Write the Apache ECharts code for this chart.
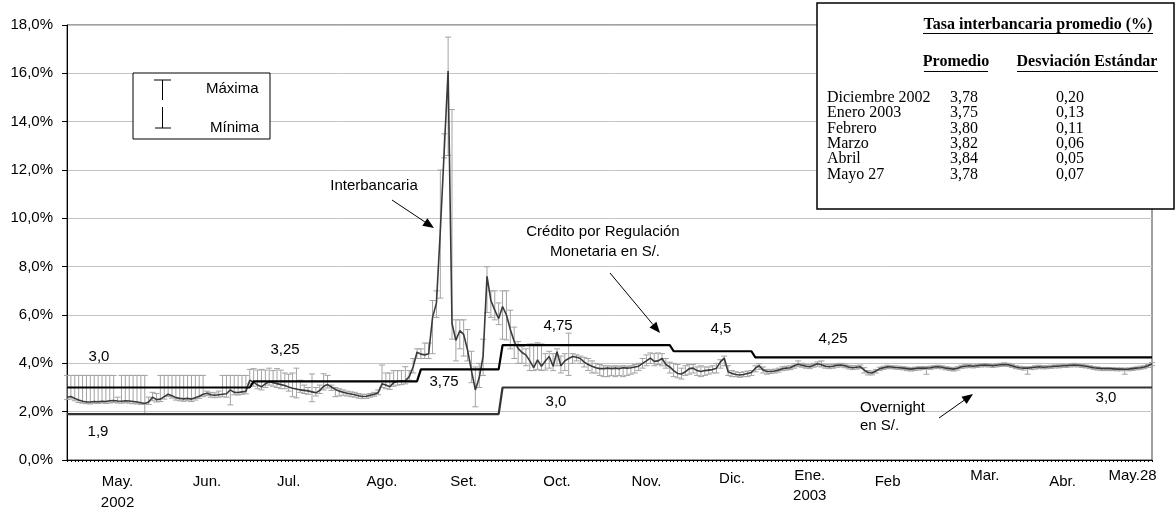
<!DOCTYPE html>
<html>
<head>
<meta charset="utf-8">
<script src="https://cdn.jsdelivr.net/npm/echarts@6/dist/echarts.min.js"></script>
<style>
html,body{margin:0;padding:0;background:#fff;}
#chart{width:1176px;height:511px;}
</style>
</head>
<body>
<div id="chart"></div>
<script>
// ---- DATA (daily, business-day index) ----
const interbank = [
2.60,2.63,2.55,2.48,2.43,2.40,2.40,2.42,2.41,2.43,
2.42,2.45,2.46,2.44,2.43,2.45,2.44,2.42,2.40,2.37,
2.34,2.40,2.60,2.50,2.52,2.62,2.72,2.66,2.58,2.55,
2.53,2.55,2.52,2.58,2.64,2.72,2.76,2.70,2.68,2.70,
2.72,2.74,2.90,2.80,2.79,2.82,2.84,3.30,3.22,3.10,
3.03,3.15,3.24,3.20,3.16,3.12,3.08,3.02,2.97,2.94,
2.90,2.88,2.86,2.82,2.78,2.88,3.05,3.12,3.02,2.92,
2.85,2.80,2.76,2.73,2.70,2.66,2.63,2.64,2.68,2.72,
2.78,3.15,3.10,3.03,3.20,3.26,3.27,3.28,3.45,3.85,
4.46,4.38,4.35,4.40,5.90,6.50,9.50,12.80,16.10,5.65,
4.95,5.35,5.20,4.55,3.70,2.90,3.40,4.30,7.60,6.60,
6.20,5.85,6.35,6.00,5.40,4.90,4.62,4.45,4.35,4.10,
3.82,4.14,3.88,4.10,4.28,3.88,4.48,3.90,4.10,4.20,
4.28,4.25,4.20,4.05,3.95,3.88,3.82,3.78,3.78,3.80,
3.78,3.80,3.78,3.82,3.80,3.82,3.85,3.88,4.00,4.10,
4.22,4.08,4.10,4.20,3.95,3.85,3.70,3.58,3.56,3.65,
3.78,3.80,3.70,3.66,3.70,3.72,3.74,3.80,4.05,4.22,
3.65,3.58,3.54,3.52,3.54,3.58,3.62,3.80,3.90,3.72,
3.66,3.66,3.68,3.72,3.78,3.80,3.82,3.90,3.96,3.92,
3.88,3.86,3.92,3.98,3.94,3.88,3.86,3.88,3.92,3.93,
3.90,3.85,3.82,3.84,3.86,3.72,3.62,3.60,3.68,3.78,
3.82,3.86,3.85,3.83,3.82,3.80,3.78,3.76,3.78,3.80,
3.81,3.80,3.82,3.85,3.86,3.84,3.80,3.78,3.76,3.80,
3.86,3.88,3.90,3.88,3.90,3.92,3.93,3.92,3.90,3.92,
3.94,3.95,3.94,3.90,3.85,3.82,3.80,3.80,3.82,3.84,
3.86,3.84,3.85,3.86,3.88,3.88,3.90,3.90,3.92,3.93,
3.92,3.90,3.88,3.85,3.82,3.80,3.78,3.78,3.78,3.77,
3.76,3.76,3.75,3.76,3.78,3.80,3.82,3.85,3.90,3.98
];
const maxima = [
3.5,3.5,3.5,3.5,3.5,3.5,3.5,3.5,3.5,3.5,
3.5,3.5,3.5,2.6,3.5,3.5,3.5,3.5,3.5,3.5,
3.5,2.6,2.8,2.75,3.5,3.5,3.5,3.5,3.5,3.5,
3.5,3.5,3.5,3.5,3.5,3.5,2.85,2.8,2.78,2.85,
3.5,3.5,3.5,3.5,3.5,3.5,3.5,3.75,3.78,3.72,
3.75,3.72,3.8,3.7,3.78,3.72,3.6,3.55,3.6,3.8,
3.3,3.1,3.0,3.56,3.0,3.1,3.57,3.5,3.1,3.0,
2.95,2.9,2.85,2.82,2.8,2.75,2.72,2.72,2.75,2.8,
2.9,3.93,3.6,3.6,3.7,3.7,3.7,3.86,3.7,4.2,
4.6,4.6,4.84,4.84,6.6,7.0,12.0,13.5,17.5,14.5,
5.8,5.8,5.8,5.4,4.5,3.85,4.0,5.0,8.0,7.0,
7.0,6.5,7.0,7.0,6.2,5.5,4.9,4.7,4.6,4.8,
4.8,4.85,4.8,4.4,4.5,4.4,4.6,4.3,4.4,5.25,
4.4,4.35,4.3,4.25,4.2,4.1,4.0,3.95,3.9,3.9,
3.88,3.9,3.88,3.9,3.88,3.9,3.95,4.0,4.2,4.35,
4.43,4.4,4.43,4.4,4.2,4.05,4.0,3.95,3.8,3.9,
3.95,3.95,3.85,3.9,3.85,3.85,3.9,4.0,4.15,4.3,
3.9,3.7,3.65,3.62,3.65,3.68,3.7,3.9,3.98,3.85,
3.75,3.74,3.76,3.8,3.86,3.88,3.9,3.98,4.1,4.0,
3.95,3.94,4.0,4.06,4.1,3.96,3.94,3.95,3.98,4.0,
3.97,3.92,3.9,3.9,3.93,3.82,3.7,3.68,3.75,3.84,
3.88,3.92,3.9,3.89,3.88,3.86,3.84,3.82,3.84,3.86,
3.87,3.86,3.88,3.9,3.92,3.9,3.86,3.84,3.82,3.86,
3.92,3.96,3.96,3.93,3.96,3.97,3.99,3.97,3.95,3.97,
4.0,4.02,4.0,3.96,3.9,3.88,3.86,3.85,3.87,3.9,
3.92,3.9,3.9,3.92,3.93,3.94,3.96,3.95,3.97,4.0,
3.97,3.95,3.93,3.9,3.87,3.85,3.83,3.83,3.83,3.82,
3.81,3.81,3.8,3.81,3.83,3.85,3.88,3.9,3.95,4.03
];
const minima = [
2.50,2.52,2.45,2.38,2.35,2.33,2.32,2.35,2.34,2.36,
2.34,2.36,2.38,2.36,2.35,2.37,2.35,2.33,2.32,2.30,
1.90,2.30,2.45,2.40,2.42,2.52,2.62,2.56,2.48,2.45,
2.43,2.45,2.42,2.48,2.55,2.62,2.66,2.60,2.58,2.60,
2.62,2.60,2.28,2.70,2.69,2.72,2.74,3.15,3.05,2.95,
2.90,3.00,3.10,3.05,3.00,2.95,2.95,2.85,2.62,2.57,
2.80,2.75,2.72,2.41,2.65,2.75,2.90,2.98,2.88,2.62,
2.65,2.68,2.65,2.62,2.60,2.56,2.54,2.55,2.60,2.64,
2.70,3.00,2.95,2.92,3.05,3.10,3.12,3.15,3.30,3.60,
4.20,4.20,4.20,4.20,4.40,5.90,6.70,12.50,12.60,5.00,
4.10,4.60,4.30,4.10,3.20,2.20,3.00,3.50,6.10,5.90,
5.80,5.60,5.00,4.97,4.60,4.20,4.00,4.00,3.90,3.70,
3.70,3.75,3.70,3.72,3.80,3.70,3.90,3.60,3.70,3.50,
4.00,4.10,4.00,3.85,3.70,3.60,3.60,3.50,3.45,3.45,
3.50,3.45,3.50,3.45,3.50,3.55,3.60,3.70,3.80,3.90,
4.00,3.90,3.95,3.90,3.80,3.60,3.45,3.40,3.35,3.50,
3.55,3.60,3.50,3.45,3.50,3.55,3.60,3.60,3.80,3.90,
3.50,3.45,3.45,3.42,3.45,3.45,3.50,3.65,3.75,3.60,
3.55,3.58,3.60,3.64,3.70,3.72,3.74,3.80,3.86,3.84,
3.80,3.78,3.84,3.88,3.85,3.80,3.78,3.80,3.84,3.85,
3.82,3.77,3.74,3.76,3.78,3.60,3.52,3.52,3.60,3.70,
3.75,3.78,3.78,3.76,3.75,3.73,3.70,3.68,3.70,3.72,
3.74,3.55,3.75,3.78,3.79,3.77,3.73,3.70,3.68,3.72,
3.79,3.81,3.83,3.81,3.83,3.85,3.86,3.85,3.83,3.85,
3.87,3.88,3.87,3.83,3.78,3.75,3.72,3.55,3.74,3.76,
3.79,3.77,3.78,3.79,3.81,3.81,3.83,3.83,3.85,3.86,
3.85,3.83,3.81,3.78,3.75,3.72,3.70,3.70,3.70,3.70,
3.69,3.69,3.55,3.69,3.71,3.73,3.75,3.78,3.83,3.90
];
// Policy rates: [day index, rate]
const crmSteps = [[0,3.0],[47,3.0],[48,3.25],[90,3.25],[91,3.75],[111,3.75],[112,4.75],[155,4.75],[156,4.5],[176,4.5],[177,4.25],[279,4.25]];
const overnightSteps = [[0,1.9],[111,1.9],[112,3.0],[279,3.0]];
// X tick labels at day indices
const monthLabelIdx = [13,36,57,81,102,126,149,171,191,211,236,256,274];
const monthLabels = ['May.\n2002','Jun.','Jul.','Ago.','Set.','Oct.','Nov.','Dic.','Ene.\n2003','Feb','Mar.','Abr.','May.28'];
// Table
const tableTitle = 'Tasa interbancaria promedio (%)';
const tableHead = ['Promedio','Desviación Estándar'];
const tableMonths = ['Diciembre 2002','Enero 2003','Febrero','Marzo','Abril','Mayo 27'];
const tableAvg = [3.78,3.75,3.80,3.82,3.84,3.78];
const tableStd = [0.20,0.13,0.11,0.06,0.05,0.07];

// ---- CHART ----
const days = interbank.map((_, i) => i);
const labelMap = {};
monthLabelIdx.forEach((d, k) => { labelMap[d] = monthLabels[k]; });
const raisedStyle = {'Dic.':'d','Ene.':'h','Mar.':'h','May.28':'h'};
const fmt2 = v => v.toFixed(2).replace('.', ',');
const SANS = '"Liberation Sans", Arial, sans-serif';
const SERIF = '"Liberation Serif", "Times New Roman", serif';

function txt(text, x, y, opts) {
  opts = opts || {};
  return {type:'text', x:x, y:y, z:100, style:{text:text, font:opts.font || ('15px ' + SANS), fill:'#000',
    textAlign:opts.align || 'center', textVerticalAlign:'middle'}};
}
function ln(x1,y1,x2,y2,w,c){
  return {type:'line', z:100, shape:{x1:x1,y1:y1,x2:x2,y2:y2}, style:{stroke:c||'#000', lineWidth:w||1}};
}
function arrow(x1,y1,x2,y2){
  const a = Math.atan2(y2-y1, x2-x1), L = 11, W = 4.5;
  const bx = x2 - L*Math.cos(a), by = y2 - L*Math.sin(a);
  const px = -Math.sin(a)*W, py = Math.cos(a)*W;
  return [ln(x1,y1,bx,by,1),
    {type:'polygon', z:100, shape:{points:[[x2,y2],[bx+px,by+py],[bx-px,by-py]]}, style:{fill:'#000'}}];
}

const g = [];
// legend box
g.push({type:'rect', z:99, shape:{x:133, y:73, width:137, height:66}, style:{fill:'#fff', stroke:'#000', lineWidth:1}});
g.push(ln(154,80,171,80), ln(162.5,80,162.5,100), ln(162.5,107,162.5,128), ln(155,128,171,128));
g.push(txt('Máxima', 206, 89, {align:'left'}), txt('Mínima', 210, 128, {align:'left'}));
// annotations
g.push(txt('Interbancaria', 374, 186));
g.push(...arrow(392, 200, 434, 228));
g.push(txt('Crédito por Regulación', 603, 232), txt('Monetaria en S/.', 605, 252));
g.push(...arrow(610, 273, 660, 333));
g.push(txt('3,0', 99, 357), txt('3,25', 285, 350), txt('1,9', 98, 432), txt('3,75', 444, 382));
g.push(txt('4,75', 558, 326), txt('3,0', 556, 402), txt('4,5', 721, 329), txt('4,25', 833, 339), txt('3,0', 1106, 398));
g.push(txt('Overnight', 860, 408, {align:'left'}), txt('en S/.', 860, 426, {align:'left'}));
g.push(...arrow(939, 418, 973, 394));
// table
g.push({type:'rect', z:99, shape:{x:817, y:3, width:357, height:206}, style:{fill:'#fff', stroke:'#000', lineWidth:1.5}});
g.push(txt(tableTitle, 1038, 25, {font:'bold 16px ' + SERIF}), ln(923,33.5,1153,33.5));
g.push(txt(tableHead[0], 956, 62, {font:'bold 16px ' + SERIF}), ln(924,71.5,988,71.5));
g.push(txt(tableHead[1], 1087, 62, {font:'bold 16px ' + SERIF}), ln(1017,71.5,1158,71.5));
tableMonths.forEach((m, k) => {
  const y = 97.5 + k*15.4;
  g.push(txt(m, 827, y, {align:'left', font:'16px ' + SERIF}));
  g.push(txt(fmt2(tableAvg[k]), 950, y, {align:'left', font:'16px ' + SERIF}));
  g.push(txt(fmt2(tableStd[k]), 1056, y, {align:'left', font:'16px ' + SERIF}));
});

const richBase = {fontSize:15, fontFamily:SANS, color:'#000'};
const option = {
  animation:false,
  backgroundColor:'#fff',
  grid:{left:67, right:24, top:25, bottom:51, show:true, borderColor:'#404040', borderWidth:1, backgroundColor:'transparent'},
  xAxis:{
    type:'category', data:days, boundaryGap:false,
    axisLine:{lineStyle:{color:'#000', width:1}},
    axisTick:{show:true, interval:0, length:2, lineStyle:{color:'#000'}},
    splitLine:{show:false},
    axisLabel:{
      interval:(i) => labelMap.hasOwnProperty(i),
      margin:6,
      formatter:(v, i) => {
        const lab = labelMap[i !== undefined ? i : v] || labelMap[v];
        if (!lab) return '';
        const parts = lab.split('\n');
        const s = raisedStyle[parts[0]] || 'n';
        let out = '{' + s + '|' + parts[0] + '}';
        if (parts[1]) out += '\n{' + (s === 'n' ? 'y1' : 'y2') + '|' + parts[1] + '}';
        return out;
      },
      rich:{
        n:Object.assign({lineHeight:32}, richBase),
        d:Object.assign({lineHeight:26}, richBase),
        h:Object.assign({lineHeight:19}, richBase),
        y1:Object.assign({lineHeight:9}, richBase),
        y2:Object.assign({lineHeight:22}, richBase)
      }
    }
  },
  yAxis:{
    type:'value', min:0, max:18, interval:2,
    axisLine:{show:true, lineStyle:{color:'#000', width:1}},
    axisTick:{show:true, length:5, lineStyle:{color:'#000'}},
    axisLabel:{formatter:v => v.toFixed(1).replace('.', ',') + '%', margin:14, color:'#000', fontSize:15, fontFamily:SANS},
    splitLine:{lineStyle:{color:'#c4c4c4', width:1}}
  },
  series:[
    {
      type:'custom', name:'Rango', z:1,
      data:interbank.map((v, i) => [i, minima[i], maxima[i]]),
      encode:{x:0, y:[1,2]},
      renderItem:(params, api) => {
        const x = api.value(0);
        const pHi = api.coord([x, api.value(2)]);
        const pLo = api.coord([x, api.value(1)]);
        const w = 3, st = {stroke:'#a3a3a3', lineWidth:1};
        return {type:'group', children:[
          {type:'line', shape:{x1:pHi[0], y1:pHi[1], x2:pLo[0], y2:pLo[1]}, style:st},
          {type:'line', shape:{x1:pHi[0]-w, y1:pHi[1], x2:pHi[0]+w, y2:pHi[1]}, style:st},
          {type:'line', shape:{x1:pLo[0]-w, y1:pLo[1], x2:pLo[0]+w, y2:pLo[1]}, style:st}
        ]};
      }
    },
    {type:'line', name:'Interbancaria', z:3, data:interbank, showSymbol:false, symbol:'none',
      lineStyle:{color:'#3a3a3a', width:1.6}},
    {type:'line', name:'Overnight', z:4, data:overnightSteps, showSymbol:false, symbol:'none',
      lineStyle:{color:'#333', width:2.2}},
    {type:'line', name:'CRM', z:4, data:crmSteps, showSymbol:false, symbol:'none',
      lineStyle:{color:'#000', width:2.2}}
  ],
  graphic:{elements:g}
};
const chart = echarts.init(document.getElementById('chart'), null, {renderer:'canvas'});
chart.setOption(option);
</script>
</body>
</html>
